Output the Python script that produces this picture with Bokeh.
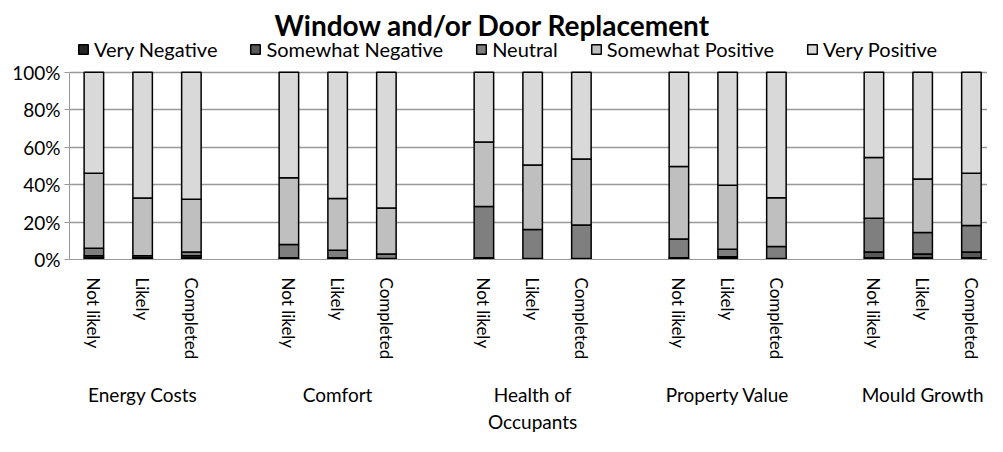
from bokeh.plotting import figure
from bokeh.models import (ColumnDataSource, Range1d, FixedTicker, LinearAxis,
                          Legend, Label)
from bokeh.embed import file_html
from bokeh.resources import INLINE

# ---------------- data ----------------
groups = ["Energy Costs", "Comfort", "Health of\nOccupants", "Property Value", "Mould Growth"]
statuses = ["Not likely", "Likely", "Completed"]
series = ["Very Negative", "Somewhat Negative", "Neutral", "Somewhat Positive", "Very Positive"]

# values in %, order: (Energy) NL, L, C, (Comfort) NL, L, C, (Health) ..., (Property) ..., (Mould) ...
very_negative = [1.0, 0.5, 1.0, 0.5, 0.5, 0.0, 0.5, 0.0, 0.0, 0.5, 1.0, 0.0, 1.0, 1.0, 1.0]
somewhat_negative = [1.0, 0.5, 1.0, 0.5, 0.5, 0.5, 0.5, 0.5, 0.5, 0.5, 0.5, 0.5, 3.0, 2.0, 3.0]
neutral = [4.0, 1.0, 2.0, 7.0, 4.0, 2.5, 27.3, 15.5, 17.9, 10.0, 4.0, 6.5, 18.0, 11.4, 14.1]
somewhat_positive = [40.0, 30.8, 28.2, 35.7, 27.6, 24.5, 34.5, 34.5, 35.3, 38.7, 34.2, 26.0, 32.4, 28.6, 27.9]
very_positive = [54.0, 67.2, 67.8, 56.3, 67.4, 72.5, 37.2, 49.5, 46.3, 50.3, 60.3, 67.0, 45.6, 57.0, 54.0]

y_ticks = [0, 20, 40, 60, 80, 100]
y_tick_labels = ["0%", "20%", "40%", "60%", "80%", "100%"]

title_text = "Window and/or Door Replacement"

colors = ["#262626", "#595959", "#7f7f7f", "#bfbfbf", "#d9d9d9"]

FONT = "Lato"

# positions: 3 bars per group + one empty slot between groups
xs = [g * 4 + j for g in range(len(groups)) for j in range(len(statuses))]
source = ColumnDataSource(dict(
    x=xs,
    vn=very_negative, sn=somewhat_negative, ne=neutral,
    sp=somewhat_positive, vp=very_positive,
))

# frame: 260 px tall, 100% sits 188 px above the baseline -> headroom for title/legend
PX_PER_UNIT = 188 / 100
Y_END = 260 / PX_PER_UNIT

p = figure(width=987, height=436, output_backend="svg", toolbar_location=None,
           x_range=Range1d(-0.5, 18.33), y_range=Range1d(0, Y_END),
           min_border_left=69, min_border_right=0, min_border_top=0, min_border_bottom=176)
p.outline_line_color = None
p.background_fill_color = "white"
p.border_fill_color = "white"

renderers = p.vbar_stack(["vn", "sn", "ne", "sp", "vp"], x="x", width=0.4, source=source,
                         fill_color=colors, line_color="#000000", line_width=1.5)

# y axis
p.yaxis.ticker = FixedTicker(ticks=y_ticks)
p.yaxis.bounds = (0, 100)
p.yaxis.major_label_overrides = {t: l for t, l in zip(y_ticks, y_tick_labels)}
p.yaxis.axis_line_color = "#999999"
p.yaxis.major_tick_line_color = "#999999"
p.yaxis.major_tick_in = 0
p.yaxis.major_tick_out = 5
p.yaxis.minor_tick_line_color = None
p.yaxis.major_label_text_font = FONT
p.yaxis.major_label_text_font_size = "19px"
p.yaxis.major_label_text_color = "#000000"
p.yaxis.major_label_standoff = 4

p.ygrid.ticker = FixedTicker(ticks=y_ticks)
p.ygrid.grid_line_color = "#999999"
p.ygrid.grid_line_width = 1.3
p.xgrid.grid_line_color = None

# x axis: status labels
p.xaxis.ticker = FixedTicker(ticks=xs)
p.xaxis.major_label_overrides = {x: statuses[i % 3] for i, x in enumerate(xs)}
p.xaxis.major_label_orientation = "vertical"
p.xaxis.axis_line_color = "#999999"
p.xaxis.major_tick_line_color = None
p.xaxis.minor_tick_line_color = None
p.xaxis.major_label_text_font = FONT
p.xaxis.major_label_text_font_size = "17px"
p.xaxis.major_label_text_color = "#000000"
p.xaxis.major_label_standoff = 12

# second x axis: group labels
centers = [g * 4 + 1 for g in range(len(groups))]
gaxis = LinearAxis(ticker=FixedTicker(ticks=centers),
                   major_label_overrides={c: groups[i] for i, c in enumerate(centers)})
gaxis.axis_line_color = None
gaxis.major_tick_line_color = None
gaxis.minor_tick_line_color = None
gaxis.major_label_text_font = FONT
gaxis.major_label_text_font_size = "19px"
gaxis.major_label_text_color = "#000000"
gaxis.major_label_standoff = 14
p.add_layout(gaxis, "below")

# legend (in the headroom above 100%)
legend = Legend(items=[(s, [r]) for s, r in zip(series, renderers)],
                orientation="horizontal", location=(8, 198))
legend.label_text_font = FONT
legend.label_text_font_size = "20px"
legend.label_text_color = "#000000"
legend.glyph_width = 12
legend.glyph_height = 12
legend.label_standoff = 5
legend.spacing = 32
legend.padding = 0
legend.margin = 0
legend.border_line_color = None
legend.background_fill_alpha = 0
p.add_layout(legend)

# title (also in the headroom)
p.add_layout(Label(x=8.18, y=Y_END - 25 / PX_PER_UNIT, text=title_text, text_align="center",
                   text_baseline="alphabetic", text_font=FONT, text_font_size="28px",
                   text_font_style="bold", text_color="#000000"))

open("out.html", "w").write(file_html(p, INLINE))
